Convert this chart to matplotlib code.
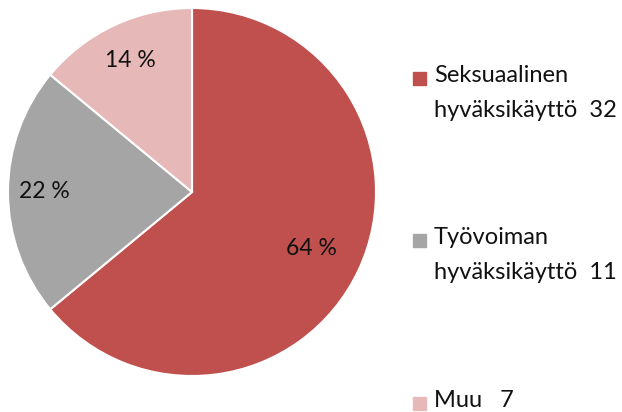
import matplotlib.pyplot as plt
import matplotlib.patches as patches
import numpy as np

labels = ['Seksuaalinen\nhyväksikäyttö  32', 'Työvoiman\nhyväksikäyttö  11', 'Muu   7']
values = [32, 11, 7]
colors = ['#C0504D', '#A5A5A5', '#E6B9B8']
pct_dist = [0.72, 0.80, 0.79]

plt.rcParams['font.family'] = ['Lato', 'DejaVu Sans']

W, H = 622, 412
fig = plt.figure(figsize=(W / 100, H / 100), dpi=100)

# pie: centre (192,192), radius 184 px
cx, cy, r = 192, 192, 184
ax = fig.add_axes([(cx - r) / W, (H - cy - r) / H, 2 * r / W, 2 * r / H])
wedges, _ = ax.pie(values, colors=colors, startangle=90, counterclock=False,
                   radius=1, wedgeprops=dict(edgecolor='white', linewidth=1.5))
ax.set_xlim(-1, 1)
ax.set_ylim(-1, 1)
ax.set_aspect('auto')
ax.axis('off')

total = sum(values)
for w, v, d in zip(wedges, values, pct_dist):
    ang = np.deg2rad((w.theta1 + w.theta2) / 2)
    ax.text(d * np.cos(ang), d * np.sin(ang), '%d %%' % round(100 * v / total),
            ha='center', va='center', fontsize=16.5, color='#111111')

# legend drawn by hand, square aligned with first text line
rows = [78, 240, 403]
for lab, col, y in zip(labels, colors, rows):
    fig.patches.append(patches.Rectangle((413 / W, (H - y - 7) / H), 13 / W, 13 / H,
                                         transform=fig.transFigure, color=col))
    fig.text(434 / W, (H - y + 13) / H, lab, ha='left', va='top', fontsize=17,
             color='#111111', linespacing=1.85, transform=fig.transFigure)

fig.savefig('out.png', dpi=100)
